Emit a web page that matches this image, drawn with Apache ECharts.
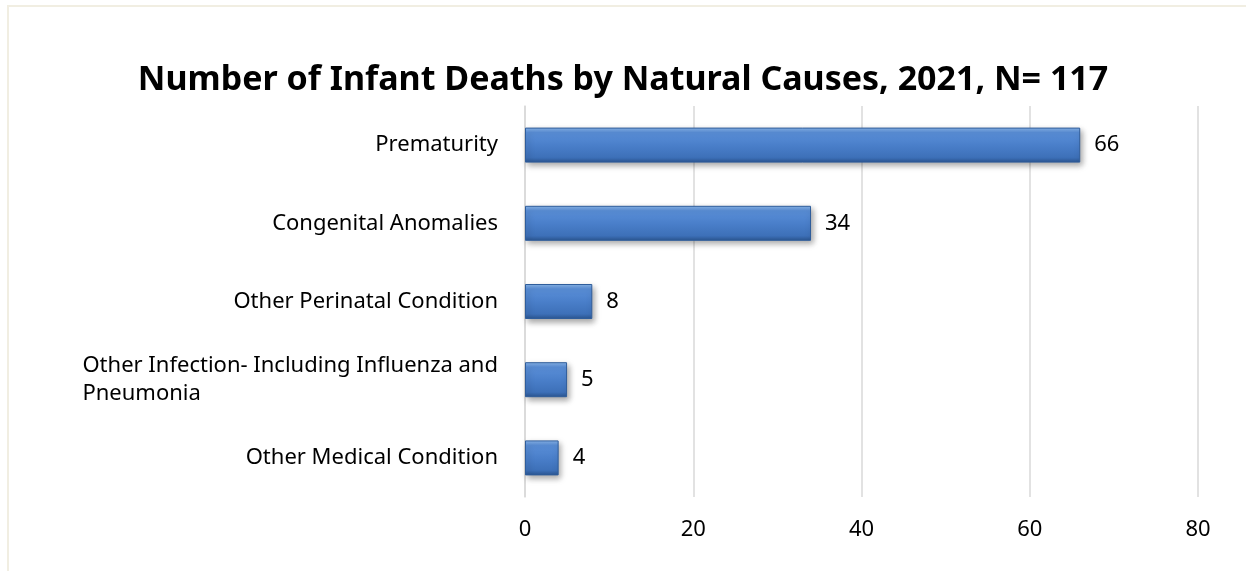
<!DOCTYPE html>
<html>
<head>
<meta charset="utf-8">
<script src="https://cdn.jsdelivr.net/npm/echarts@6/dist/echarts.min.js"></script>
<style>
  html, body { margin: 0; padding: 0; background: #ffffff; }
  #frame { position: absolute; left: 7px; top: 5px; right: -2px; bottom: -2px; border: 2px solid #f1eee2; box-sizing: border-box; }
  #chart { position: absolute; left: 0; top: 0; width: 1246px; height: 571px; }
</style>
</head>
<body>
<div id="frame"></div>
<div id="chart"></div>
<script>
// Causes of infant death (top to bottom) and counts, 2021
const causes = [
  'Prematurity',
  'Congenital Anomalies',
  'Other Perinatal Condition',
  'Other Infection- Including Influenza and\nPneumonia',
  'Other Medical Condition'
];
const deaths = [66, 34, 8, 5, 4];
const xTicks = [0, 20, 40, 60, 80];

const chart = echarts.init(document.getElementById('chart'), null, { renderer: 'canvas' });

const barFill = new echarts.graphic.LinearGradient(0, 0, 0, 1, [
  { offset: 0, color: '#8ab6ea' },
  { offset: 0.14, color: '#5a8fd8' },
  { offset: 0.5, color: '#4a7fca' },
  { offset: 0.86, color: '#3d70b8' },
  { offset: 1, color: '#2a5590' }
]);

chart.setOption({
  animation: false,
  backgroundColor: 'transparent',
  textStyle: { fontFamily: 'Noto Sans' },
  title: {
    text: 'Number of Infant Deaths by Natural Causes, 2021, N= 117',
    left: 'center',
    top: 58,
    textStyle: { fontFamily: 'Noto Sans', fontWeight: 'bold', fontSize: 34, color: '#000000' }
  },
  grid: { left: 525, right: 48, top: 106, bottom: 74, containLabel: false },
  xAxis: {
    type: 'value',
    min: xTicks[0],
    max: xTicks[xTicks.length - 1],
    interval: xTicks[1] - xTicks[0],
    axisLine: { show: false },
    axisTick: { show: false },
    axisLabel: { fontSize: 22, color: '#000000', margin: 22 },
    splitLine: { show: true, lineStyle: { color: '#d9d9d9', width: 1.5 } }
  },
  yAxis: {
    type: 'category',
    data: causes,
    inverse: true,
    axisLine: { show: true, lineStyle: { color: '#d9d9d9', width: 1.5 } },
    axisTick: { show: false },
    axisLabel: {
      fontSize: 22,
      color: '#000000',
      margin: 27,
      lineHeight: 28,
      formatter: function (v) { return '{t|' + v.split('\n').join('}\n{t|') + '}'; },
      rich: { t: { align: 'left', fontSize: 22, lineHeight: 28, color: '#000000', fontFamily: 'Noto Sans' } }
    }
  },
  series: [{
    type: 'bar',
    data: deaths,
    barWidth: 35,
    itemStyle: {
      color: barFill,
      borderColor: '#2f5d9b',
      borderWidth: 1,
      shadowColor: 'rgba(0,0,0,0.35)',
      shadowBlur: 6,
      shadowOffsetX: 2,
      shadowOffsetY: 3
    },
    label: {
      show: true,
      position: 'right',
      distance: 14,
      fontSize: 22,
      color: '#000000',
      fontFamily: 'Noto Sans'
    }
  }]
});
</script>
</body>
</html>
